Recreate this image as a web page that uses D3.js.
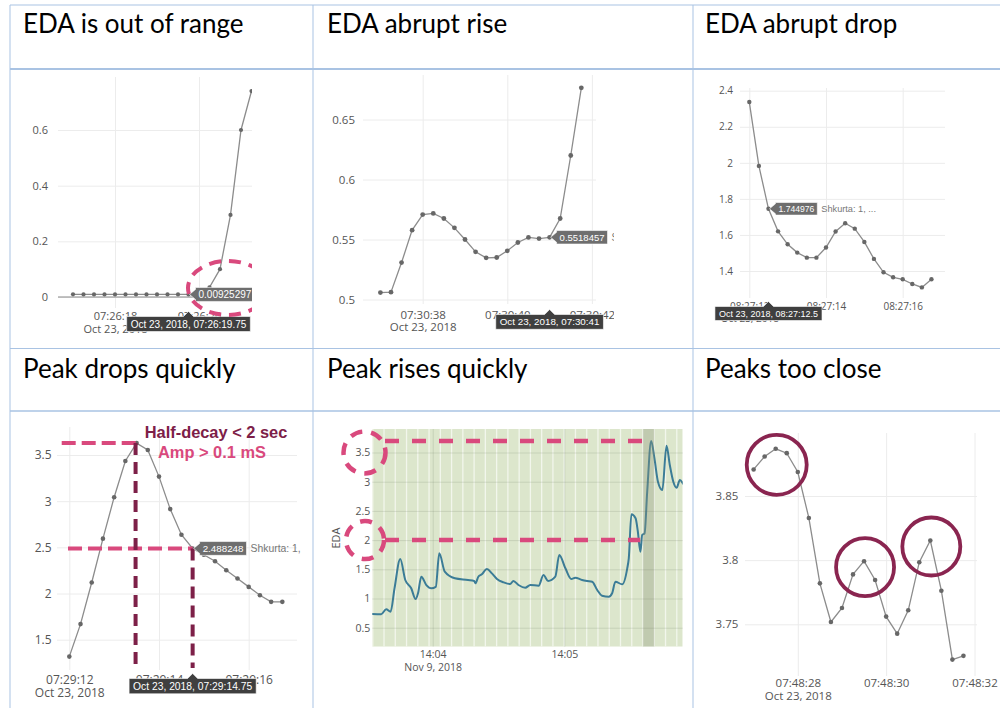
<!DOCTYPE html>
<html>
<head>
<meta charset="utf-8">
<script src="https://cdn.jsdelivr.net/npm/d3@7"></script>
<style>
  body { margin: 0; background: #fff; }
  svg { display: block; }
</style>
</head>
<body>
<svg id="fig" width="1000" height="708"></svg>
<script>
// ---------- data ----------
const panelTitles = ["EDA is out of range", "EDA abrupt rise", "EDA abrupt drop",
                     "Peak drops quickly", "Peak rises quickly", "Peaks too close"];

// EDA samples (uS), recorded at 4 Hz
const sampleHz = 4;

const rangeStart = "2018-10-23T07:26:17.000";
const rangeEDA = [0.0095, 0.0094, 0.0093, 0.0093, 0.0092, 0.0093, 0.0093, 0.0092, 0.0093,
                  0.0093, 0.0092, 0.00925297, 0.012, 0.035, 0.1, 0.295, 0.6, 0.74];
const rangeTicksX = ["2018-10-23T07:26:18", "2018-10-23T07:26:20", "2018-10-23T07:26:22"];
const rangeTicksY = [0, 0.2, 0.4, 0.6];
const rangeHover = 11;

const riseStart = "2018-10-23T07:30:37.000";
const riseEDA = [0.5058, 0.5061, 0.5308, 0.5578, 0.5708, 0.5717, 0.5675, 0.5597, 0.5500, 0.5397,
                 0.5347, 0.5350, 0.5406, 0.5475, 0.5517, 0.5508, 0.5518457, 0.5675, 0.6200, 0.6764];
const riseTicksX = ["2018-10-23T07:30:38", "2018-10-23T07:30:40", "2018-10-23T07:30:42"];
const riseTicksY = [0.5, 0.55, 0.6, 0.65];
const riseHover = 16;

const dropStart = "2018-10-23T08:27:12.000";
const dropEDA = [2.337, 1.983, 1.744976, 1.620, 1.548, 1.502, 1.474, 1.474, 1.530, 1.619,
                 1.665, 1.635, 1.561, 1.467, 1.393, 1.365, 1.354, 1.328, 1.309, 1.354];
const dropTicksX = ["2018-10-23T08:27:12", "2018-10-23T08:27:14", "2018-10-23T08:27:16"];
const dropTicksY = [1.4, 1.6, 1.8, 2, 2.2, 2.4];
const dropHover = 2;

const decayStart = "2018-10-23T07:29:12.000";
const decayEDA = [1.317, 1.669, 2.119, 2.594, 3.043, 3.435, 3.629, 3.554, 3.266, 2.914,
                  2.637, 2.488248, 2.420, 2.349, 2.252, 2.162, 2.072, 1.982, 1.910, 1.910];
const decayTicksX = ["2018-10-23T07:29:12", "2018-10-23T07:29:14", "2018-10-23T07:29:16"];
const decayTicksY = [1.5, 2, 2.5, 3, 3.5];
const decayHover = 11;
const decayNotes = ["Half-decay < 2 sec", "Amp > 0.1 mS"];

// Peak rises quickly: seconds after 14:03:00, EDA in uS
const quickBase = "2018-11-09T14:03:00";
const quickSec = [32.3, 36.5, 38.8, 40.8, 42.6, 45.2, 47.5, 50.2, 52.2, 53.3, 54.8, 57.1, 59.4, 61.4,
                  63.0, 65.5, 70.1, 76.1, 78.9, 79.5, 80.8, 82.4, 84.7, 87.0, 89.3, 92.3, 95.3, 96.8,
                  99.1, 102.2, 104.5, 108.3, 110.5, 112.6, 115.9, 117.7, 120.5, 123.2, 125.0, 128.1,
                  130.4, 132.7, 135.0, 137.2, 140.3, 141.8, 143.3, 146.4, 148.7, 149.4, 150.6, 152.5,
                  153.5, 154.7, 155.5, 156.6, 157.8, 159.6, 161.1, 162.7, 164.7, 166.6, 168.1, 169.7,
                  171.2, 172.7, 174.3];
const quickEDA = [0.735, 0.73, 0.815, 0.775, 1.175, 1.676, 1.317, 1.175, 0.99, 1.09, 1.373, 1.23, 1.175,
                  1.20, 1.774, 1.459, 1.346, 1.317, 1.30, 1.26, 1.373, 1.414, 1.505, 1.43, 1.334, 1.277,
                  1.248, 1.30, 1.231, 1.185, 1.231, 1.219, 1.402, 1.30, 1.373, 1.745, 1.517, 1.334,
                  1.356, 1.317, 1.30, 1.288, 1.146, 1.048, 1.031, 1.089, 1.288, 1.243, 1.517, 1.688,
                  2.442, 2.373, 2.156, 1.80, 2.087, 2.116, 2.829, 3.697, 3.40, 3.0, 2.858, 3.616, 3.286,
                  3.0, 2.897, 3.029, 2.955];
const quickTicksX = ["2018-11-09T14:04:00", "2018-11-09T14:05:00"];
const quickTicksY = [0.5, 1, 1.5, 2, 2.5, 3, 3.5];
const quickBaseLevel = 2.0;
// classification windows
const windowFirst = "2018-11-09T14:03:32.67";
const windowSeconds = 5.134;
const windowCount = 28;
const flaggedWindow = 24;

const closeStart = "2018-10-23T07:48:27.000";
const closeEDA = [3.8707, 3.8808, 3.8868, 3.8834, 3.8687, 3.8329, 3.7819, 3.7518, 3.7627, 3.7889,
                  3.7992, 3.7845, 3.756, 3.7427, 3.7609, 3.7984, 3.8153, 3.7762, 3.7225, 3.7254];
const closeTicksX = ["2018-10-23T07:48:28", "2018-10-23T07:48:30", "2018-10-23T07:48:32"];
const closeTicksY = [3.75, 3.8, 3.85];
const closePeaks = [2, 10, 16];

// ---------- helpers ----------
const svg = d3.select("#fig");
const defs = svg.append("defs");
const toDate = s => new Date(s);
const sampled = (start, vals) => vals.map((v, i) => ({t: new Date(toDate(start).getTime() + i * 1000 / sampleHz), v}));

const tickFont = "'Open Sans', 'DejaVu Sans', sans-serif";
const hoverFont = "'Liberation Sans', Arial, sans-serif";
const gridColor = "#ececec";
const tickColor = "#555";
const pink = "#d9497d";
const maroon = "#7d2048";
const fmtDate = d3.timeFormat("%b %-d, %Y");

function hoverTime(d) {
  const s = d.getSeconds() + d.getMilliseconds() / 1000;
  return d3.timeFormat("%b %-d, %Y, %H:%M:")(d) + (s < 10 ? "0" : "") + s;
}

function clipGroup(id, r) {
  defs.append("clipPath").attr("id", id).append("rect")
    .attr("x", r[0]).attr("y", r[1]).attr("width", r[2]).attr("height", r[3]);
  return svg.append("g").attr("clip-path", `url(#${id})`);
}

function axes(g, c, x, y) {
  const p = c.plot;
  const ya = g.append("g").attr("transform", `translate(${p.l},0)`)
    .call(d3.axisLeft(y).tickValues(c.yTicks).tickSize(-(p.r - p.l)).tickPadding(c.yPad).tickFormat(d3.format("~g")));
  ya.attr("font-size", null).attr("font-family", null);
  ya.select(".domain").remove();
  ya.selectAll(".tick line").attr("stroke", c.grid || gridColor);
  ya.selectAll(".tick text").attr("fill", tickColor).style("font-family", tickFont).style("font-size", c.fs + "px");

  const xa = g.append("g").attr("transform", `translate(0,${p.b})`)
    .call(d3.axisBottom(x).tickValues(c.xTicks.map(toDate)).tickSize(-(p.b - p.t)).tickFormat(d3.timeFormat(c.xFmt)));
  xa.attr("font-size", null).attr("font-family", null);
  xa.select(".domain").remove();
  xa.selectAll(".tick line").attr("stroke", c.grid || gridColor);
  xa.selectAll(".tick text").attr("fill", tickColor).style("font-family", tickFont).style("font-size", c.fs + "px")
    .attr("y", c.xLab - p.b).attr("dy", null);
  xa.select(".tick text").append("tspan").attr("x", 0).attr("y", c.xDate - p.b).text(fmtDate(toDate(c.xTicks[0])));
}

function trace(g, data, x, y, r) {
  g.append("path").datum(data)
    .attr("d", d3.line().x(d => x(d.t)).y(d => y(d.v)))
    .attr("fill", "none").attr("stroke", "#8c8c8c").attr("stroke-width", 1.3);
  g.append("g").selectAll("circle").data(data).join("circle")
    .attr("cx", d => x(d.t)).attr("cy", d => y(d.v)).attr("r", r).attr("fill", "#676767");
}

function valueLabel(g, px, py, text, fs, extra) {
  const lab = g.append("g");
  const t = lab.append("text").attr("x", px + 10).attr("y", py).attr("dy", "0.36em")
    .attr("fill", "#fff").style("font-family", hoverFont).style("font-size", fs + "px").text(text);
  const w = t.node().getComputedTextLength();
  const h = fs + 4;
  lab.insert("path", "text")
    .attr("d", `M${px + 1},${py} L${px + 7},${py - 5} V${py - h / 2} H${px + 13 + w} V${py + h / 2} H${px + 7} V${py + 5} Z`)
    .attr("fill", "#6e6e6e").attr("stroke", "#fff").attr("stroke-width", 0.6);
  if (extra) {
    lab.append("text").attr("x", px + 17 + w).attr("y", py).attr("dy", "0.36em")
      .attr("fill", "#777").style("font-family", hoverFont).style("font-size", (fs + 0.6) + "px").text(extra);
  }
}

function timeLabel(g, px, tipY, text, fs) {
  const lab = g.append("g");
  const top = tipY + 5;
  const t = lab.append("text").attr("x", px).attr("y", top + fs + 1).attr("text-anchor", "middle")
    .attr("fill", "#fff").style("font-family", hoverFont).style("font-size", fs + "px").text(text);
  const w = t.node().getComputedTextLength();
  const h = fs + 5;
  lab.insert("path", "text")
    .attr("d", `M${px},${tipY} L${px + 5},${top} H${px + w / 2 + 4} V${top + h} H${px - w / 2 - 4} V${top} H${px - 5} Z`)
    .attr("fill", "#3f3f3f").attr("stroke", "#fff").attr("stroke-width", 0.6);
}

// ---------- table frame and titles ----------
const frame = svg.append("g").attr("stroke", "#a9c3e3").attr("fill", "none");
[[5, 1], [69, 1.8], [348.5, 1], [411, 1.4]].forEach(([yy, sw]) =>
  frame.append("line").attr("x1", 10).attr("x2", 1000).attr("y1", yy).attr("y2", yy).attr("stroke-width", sw));
[10, 313, 693].forEach(xx =>
  frame.append("line").attr("x1", xx).attr("x2", xx).attr("y1", 5).attr("y2", 708).attr("stroke-width", 1));

const titlePos = [[23, 33], [327, 33], [705, 33], [23, 378], [327, 378], [705, 378]];
svg.append("g").selectAll("text").data(panelTitles).join("text")
  .attr("x", (d, i) => titlePos[i][0]).attr("y", (d, i) => titlePos[i][1])
  .style("font-family", "Lato, 'Open Sans', sans-serif").style("font-size", "26px").attr("fill", "#000")
  .text(d => d);

// ---------- EDA is out of range ----------
{
  const c = {plot: {l: 58, r: 252, t: 77, b: 308}, yPad: 10, fs: 11, xLab: 320, xDate: 333,
             xTicks: rangeTicksX, yTicks: rangeTicksY, xFmt: "%H:%M:%S"};
  const g = clipGroup("clip-range", [10, 69, 242, 279]);
  const x = d3.scaleTime().domain([toDate(rangeTicksX[0]), toDate(rangeTicksX[1])]).range([115, 199]);
  const y = d3.scaleLinear().domain([0, 0.6]).range([297, 130]);
  const data = sampled(rangeStart, rangeEDA);
  axes(g, c, x, y);
  g.append("line").attr("x1", c.plot.l).attr("x2", c.plot.r).attr("y1", y(0)).attr("y2", y(0))
    .attr("stroke", "#888").attr("stroke-width", 1.2);
  trace(g, data, x, y, 2.1);
  const h = data[rangeHover];
  valueLabel(g, x(h.t), y(h.v), String(h.v), 10, "Shkurta: 1, ...");
  timeLabel(g, x(h.t), 311.5, hoverTime(h.t), 10);
  g.append("ellipse").attr("cx", x(h.t) + 39.5).attr("cy", y(h.v) - 6.5).attr("rx", 40).attr("ry", 27)
    .attr("fill", "none").attr("stroke", pink).attr("stroke-width", 4).attr("stroke-dasharray", "12,8");
}

// ---------- EDA abrupt rise ----------
{
  const c = {plot: {l: 363, r: 596, t: 75, b: 304}, yPad: 8, fs: 11.5, xLab: 318.5, xDate: 330.5,
             xTicks: riseTicksX, yTicks: riseTicksY, xFmt: "%H:%M:%S"};
  const g = clipGroup("clip-rise", [313, 69, 301, 279]);
  const x = d3.scaleTime().domain([toDate(riseTicksX[0]), toDate(riseTicksX[1])]).range([422.7, 507.3]);
  const y = d3.scaleLinear().domain([0.5, 0.65]).range([299.5, 119.5]);
  const data = sampled(riseStart, riseEDA);
  axes(g, c, x, y);
  trace(g, data, x, y, 2.4);
  const h = data[riseHover];
  valueLabel(g, x(h.t), y(h.v), String(h.v), 9.5, "Shkurta: 1, ...");
  timeLabel(g, x(h.t), 309.5, hoverTime(h.t), 9.8);
}

// ---------- EDA abrupt drop ----------
{
  const c = {plot: {l: 740, r: 945, t: 88, b: 298}, yPad: 7, fs: 10, xLab: 310, xDate: 322,
             xTicks: dropTicksX, yTicks: dropTicksY, xFmt: "%H:%M:%S"};
  const g = clipGroup("clip-drop", [693, 69, 307, 279]);
  const x = d3.scaleTime().domain([toDate(dropTicksX[0]), toDate(dropTicksX[1])]).range([749.3, 826]);
  const y = d3.scaleLinear().domain([1.4, 2.4]).range([271, 90.7]);
  const data = sampled(dropStart, dropEDA);
  axes(g, c, x, y);
  trace(g, data, x, y, 2.2);
  const h = data[dropHover];
  valueLabel(g, x(h.t), y(h.v), String(h.v), 8.6, "Shkurta: 1, ...");
  timeLabel(g, x(h.t), 301.5, hoverTime(h.t), 9);
}

// ---------- Peak drops quickly ----------
{
  const c = {plot: {l: 57, r: 297, t: 427, b: 670}, yPad: 5.5, fs: 12, xLab: 683.5, xDate: 697,
             xTicks: decayTicksX, yTicks: decayTicksY, xFmt: "%H:%M:%S"};
  const g = clipGroup("clip-decay", [10, 411, 291, 297]);
  const x = d3.scaleTime().domain([toDate(decayTicksX[0]), toDate(decayTicksX[1])]).range([69.3, 159]);
  const y = d3.scaleLinear().domain([1.5, 3.5]).range([639.7, 455]);
  const data = sampled(decayStart, decayEDA);
  axes(g, c, x, y);
  trace(g, data, x, y, 2.3);
  const peak = data[d3.maxIndex(data, d => d.v)];
  const half = data[decayHover];
  const dashed = (x1, y1, x2, y2, col, dash) => g.append("line")
    .attr("x1", x1).attr("y1", y1).attr("x2", x2).attr("y2", y2)
    .attr("stroke", col).attr("stroke-width", 4).attr("stroke-dasharray", dash);
  dashed(61.7, y(peak.v), x(peak.t), y(peak.v), pink, "14,6");
  dashed(68, y(half.v), x(half.t), y(half.v), pink, "14,6");
  dashed(x(peak.t) - 1, y(peak.v), x(peak.t) - 1, 668, maroon, "12,7");
  dashed(x(half.t), y(half.v), x(half.t), 668, maroon, "12,7");
  valueLabel(g, x(half.t), y(half.v), String(half.v), 9.8, "Shkurta: 1, ...");
  timeLabel(g, x(half.t), 673.5, hoverTime(half.t), 10.3);
  g.append("text").attr("x", 216).attr("y", 437.7).attr("text-anchor", "middle")
    .style("font-family", hoverFont).style("font-size", "16.4px").style("font-weight", "bold")
    .attr("fill", maroon).text(decayNotes[0]);
  g.append("text").attr("x", 212).attr("y", 458.3).attr("text-anchor", "middle")
    .style("font-family", hoverFont).style("font-size", "16.4px").style("font-weight", "bold")
    .attr("fill", pink).text(decayNotes[1]);
}

// ---------- Peak rises quickly ----------
{
  const p = {l: 372.3, r: 682.7, t: 429, b: 646.7};
  const c = {plot: p, yPad: 2, fs: 10.5, xLab: 658, xDate: 671, grid: "rgba(90,100,80,0.16)",
             xTicks: quickTicksX, yTicks: quickTicksY, xFmt: "%H:%M"};
  const g = svg.append("g");
  defs.append("clipPath").attr("id", "clip-quick").append("rect")
    .attr("x", p.l).attr("y", p.t).attr("width", p.r - p.l).attr("height", p.b - p.t);
  const x = d3.scaleTime().domain([toDate(quickTicksX[0]), toDate(quickTicksX[1])]).range([432.7, 564.3]);
  const y = d3.scaleLinear().domain([0.5, 3.5]).range([627.7, 452.5]);
  const base = toDate(quickBase).getTime();
  const data = quickSec.map((s, i) => ({t: new Date(base + s * 1000), v: quickEDA[i]}));
  const w0 = toDate(windowFirst).getTime();
  const edges = d3.range(windowCount + 1).map(k => new Date(w0 + k * windowSeconds * 1000));

  const plotG = g.append("g").attr("clip-path", "url(#clip-quick)");
  plotG.append("rect").attr("x", p.l).attr("y", p.t).attr("width", p.r - p.l).attr("height", p.b - p.t)
    .attr("fill", "#dce6cc");
  plotG.append("g").selectAll("line").data(edges).join("line")
    .attr("x1", d => x(d)).attr("x2", d => x(d)).attr("y1", p.t).attr("y2", p.b)
    .attr("stroke", "#f2f6ec").attr("stroke-width", 1.3);
  axes(g, c, x, y);
  plotG.append("path").datum(data)
    .attr("d", d3.line().x(d => x(d.t)).y(d => y(d.v)).curve(d3.curveMonotoneX))
    .attr("fill", "none").attr("stroke", "#3b7c97").attr("stroke-width", 2);
  plotG.append("rect").attr("x", x(edges[flaggedWindow])).attr("y", p.t)
    .attr("width", x(edges[flaggedWindow + 1]) - x(edges[flaggedWindow])).attr("height", p.b - p.t)
    .attr("fill", "rgba(140,150,120,0.35)");

  g.append("text").attr("transform", `translate(339.5,538) rotate(-90)`).attr("text-anchor", "middle")
    .style("font-family", tickFont).style("font-size", "11px").attr("fill", tickColor).text("EDA");

  const top = data[d3.maxIndex(data, d => d.v)];
  const ann = g.append("g").attr("fill", "none").attr("stroke", pink).attr("stroke-width", 4.5);
  ann.append("line").attr("x1", 385).attr("x2", x(top.t) - 6).attr("y1", y(top.v)).attr("y2", y(top.v))
    .attr("stroke-dasharray", "14,13");
  ann.append("line").attr("x1", 385).attr("x2", x(top.t) - 11).attr("y1", y(quickBaseLevel)).attr("y2", y(quickBaseLevel))
    .attr("stroke-dasharray", "14,13");
  ann.append("circle").attr("cx", 364.5).attr("cy", y(3.5)).attr("r", 21).attr("stroke-dasharray", "12,9");
  ann.append("circle").attr("cx", 365).attr("cy", y(quickBaseLevel)).attr("r", 19).attr("stroke-dasharray", "12,9");
}

// ---------- Peaks too close ----------
{
  const c = {plot: {l: 745, r: 977, t: 433, b: 676}, yPad: 6.7, fs: 11.5, xLab: 687, xDate: 699.5,
             xTicks: closeTicksX, yTicks: closeTicksY, xFmt: "%H:%M:%S"};
  const g = clipGroup("clip-close", [693, 411, 307, 297]);
  const x = d3.scaleTime().domain([toDate(closeTicksX[0]), toDate(closeTicksX[2])]).range([797.8, 974.5]);
  const y = d3.scaleLinear().domain([3.75, 3.85]).range([624.3, 496]);
  const data = sampled(closeStart, closeEDA);
  axes(g, c, x, y);
  trace(g, data, x, y, 2.3);
  const drop = [16, 6, 6];
  g.append("g").selectAll("circle").data(closePeaks).join("circle")
    .attr("cx", (d, i) => x(data[d].t) + 1).attr("cy", (d, i) => y(data[d].v) + drop[i])
    .attr("r", (d, i) => i === 0 ? 30 : 29)
    .attr("fill", "none").attr("stroke", "#8a2550").attr("stroke-width", 3.8);
}
</script>
</body>
</html>
